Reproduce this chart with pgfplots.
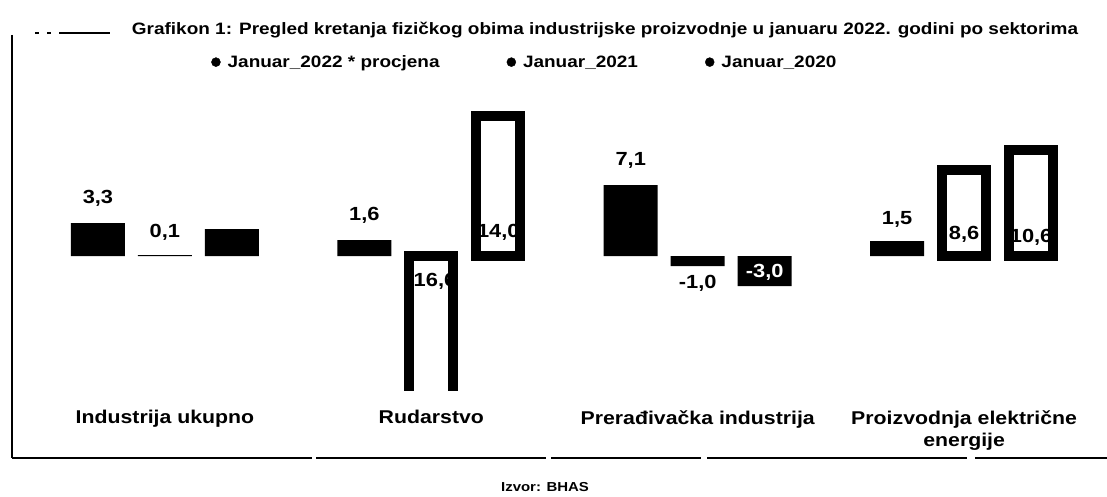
\documentclass[border=0pt]{standalone}
\usepackage{fontspec}
\setmainfont{Liberation Sans}[FakeStretch=1.15]
\usepackage{pgfplots}
\pgfplotsset{compat=1.18}
\begin{document}
\begin{tikzpicture}
\path[use as bounding box] (0pt,0pt) rectangle (1107pt,496pt);
\fill[white] (0pt,0pt) rectangle (1107pt,496pt);
% frame
\draw[line width=2pt] (12pt,461pt) -- (12pt,38pt);
\draw[line width=1.6pt, dash pattern=on 300pt off 4pt on 230pt off 5pt on 150pt off 6pt on 260pt off 8pt on 200pt off 10pt] (12pt,38pt) -- (1107pt,38pt);
\draw[line width=1.6pt, dash pattern=on 4pt off 8pt on 4pt off 8pt on 60pt] (35pt,463pt) -- (110pt,463pt);
\node[font=\bfseries\fontsize{16.5}{18}\selectfont, anchor=center] at (605pt,466pt) {Grafikon 1: Pregled kretanja fizičkog obima industrijske proizvodnje u januaru 2022. godini po sektorima};
\node[font=\bfseries\fontsize{13}{15}\selectfont, anchor=center] at (545pt,9pt) {Izvor: BHAS};
\begin{axis}[
  at={(20pt,106pt)}, anchor=south west, scale only axis,
  width=1080pt, height=280pt,
  xmin=-0.544, xmax=3.510, ymin=-13.4, ymax=14.6,
  axis line style={draw=none}, tick style={draw=none}, major tick length=0pt,
  ytick=\empty,
  xtick={0,1,2,3},
  xticklabels={Industrija ukupno, Rudarstvo, Prerađivačka industrija, {Proizvodnja električne\\energije}},
  xticklabel style={font=\bfseries\fontsize{18.5}{22}\selectfont, align=center, anchor=north, yshift=-17pt},
  legend columns=3,
  legend cell align=left,
  legend style={at={(0.1769,1.171)}, anchor=west, draw=none, fill=none,
    font=\bfseries\fontsize{16.5}{18}\selectfont, /tikz/column sep=0pt, inner sep=0pt},
]
\addlegendimage{legend image code/.code={\fill[black] (0pt,0pt) circle (4.5pt);}}
\addlegendentry{\makebox[282pt][l]{\hspace{5pt}Januar\_2022 * procjena}}
\addlegendimage{legend image code/.code={\fill[black] (0pt,0pt) circle (4.5pt);}}
\addlegendentry{\makebox[185pt][l]{\hspace{5pt}Januar\_2021}}
\addlegendimage{legend image code/.code={\fill[black] (0pt,0pt) circle (4.5pt);}}
\addlegendentry{\hspace{5pt}Januar\_2020}
% Januar 2022
\addplot[ybar, bar width=54pt, bar shift=-67pt, fill=black, draw=none, forget plot]
  coordinates {(0,3.3) (1,1.6) (2,7.1) (3,1.5)};
% Januar 2021
\addplot[ybar, bar width=54pt, bar shift=0pt, fill=black, draw=none, forget plot]
  coordinates {(0,0.1) (2,-1.0)};
\addplot[ybar, bar width=44pt, bar shift=0pt, fill=white, draw=black, line width=10pt, forget plot]
  coordinates {(1,-16.6) (3,8.6)};
% Januar 2020
\addplot[ybar, bar width=54pt, bar shift=67pt, fill=black, draw=none, forget plot]
  coordinates {(0,2.7) (2,-3.0)};
\addplot[ybar, bar width=44pt, bar shift=67pt, fill=white, draw=black, line width=10pt, forget plot]
  coordinates {(1,14.0) (3,10.6)};
% value labels
\addplot[only marks, mark=none, forget plot, nodes near coords, point meta=explicit symbolic,
  every node near coord/.append style={anchor=center, inner sep=0pt, font=\bfseries\fontsize{19}{19}\selectfont}]
  table[meta=lab, row sep=\\] {
  x y lab\\
  -0.2514 5.8 3,3\\
  0 2.4 0,1\\
  0.7486 4.1 1,6\\
  1 -2.5 -16,6\\
  1.2514 2.4 14,0\\
  1.7486 9.6 7,1\\
  2 -2.7 -1,0\\
  2.7486 3.7 1,5\\
  3 2.2 8,6\\
  3.2514 1.9 10,6\\
  };
\addplot[only marks, mark=none, forget plot, nodes near coords, point meta=explicit symbolic,
  every node near coord/.append style={anchor=center, inner sep=0pt, text=white, font=\bfseries\fontsize{19}{19}\selectfont}]
  table[meta=lab, row sep=\\] {
  x y lab\\
  2.2514 -1.6 -3,0\\
  };
\end{axis}
\end{tikzpicture}
\end{document}
